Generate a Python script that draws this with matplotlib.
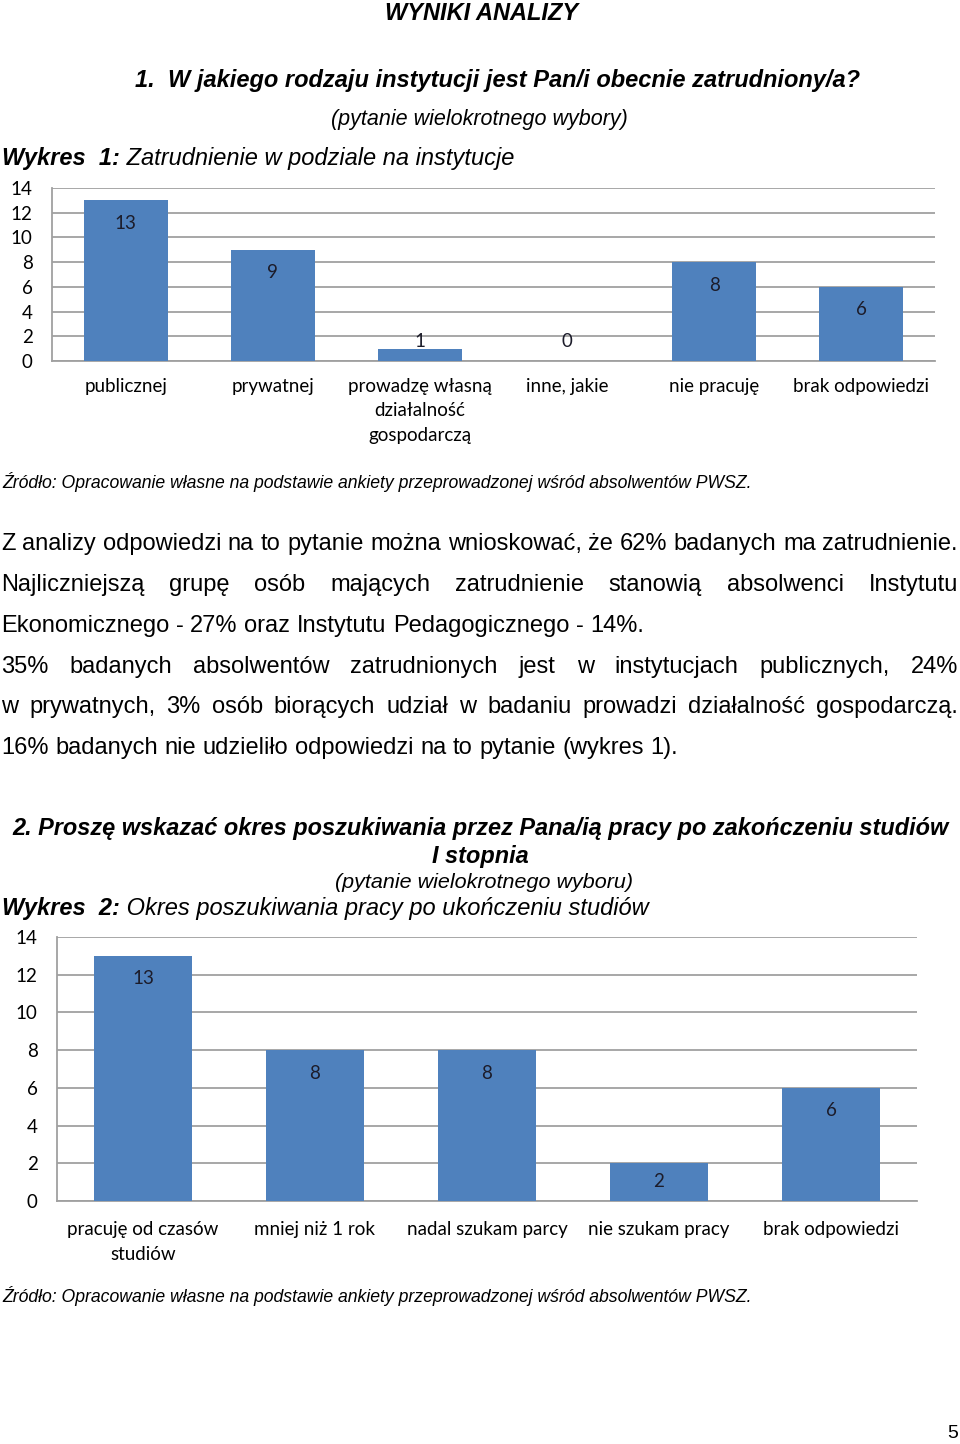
import matplotlib
matplotlib.use('Agg')
import matplotlib.pyplot as plt

W, H = 960, 1444
BLUE = '#4F81BD'
GRID = '#A0A0A0'
CHART_FONT = ['Lato', 'DejaVu Sans']
DOC_FONT = ['Liberation Sans', 'DejaVu Sans']
NARROW = ['Liberation Sans Narrow', 'Liberation Sans', 'DejaVu Sans']

# chart 1 data
cats1 = ['publicznej', 'prywatnej', 'prowadzę własną\ndziałalność\ngospodarczą',
         'inne, jakie', 'nie pracuję', 'brak odpowiedzi']
vals1 = [13, 9, 1, 0, 8, 6]

# chart 2 data
cats2 = ['pracuję od czasów\nstudiów', 'mniej niż 1 rok', 'nadal szukam parcy',
         'nie szukam pracy', 'brak odpowiedzi']
vals2 = [13, 8, 8, 2, 6]

yticks = [0, 2, 4, 6, 8, 10, 12, 14]

fig = plt.figure(figsize=(W / 100, H / 100), dpi=100)
renderer = fig.canvas.get_renderer()


def fy(y):
    return 1 - y / H


def width_of(t):
    return t.get_window_extent(renderer).width


def measure(s, size):
    t = fig.text(0, 0, s, fontsize=size, family=DOC_FONT)
    w = width_of(t)
    t.remove()
    return w


def fit(text, x0, x1, y, **kw):
    t = fig.text(x0 / W, fy(y), text, va='center', ha='left', fontsize=10, **kw)
    t.set_fontsize(10 * (x1 - x0) / width_of(t))
    return t


def runs(parts, x0, y, size):
    # parts: list of (text, style, weight)
    x = x0
    for txt, style, weight in parts:
        t = fig.text(x / W, fy(y), txt, va='center', ha='left', fontsize=size,
                     style=style, weight=weight, family=DOC_FONT)
        x += width_of(t)


def justify(line, y, x0, x1, size, full=True):
    words = line.split()
    texts = [fig.text(0, fy(y), w, va='center', ha='left', fontsize=size, family=DOC_FONT)
             for w in words]
    widths = [width_of(t) for t in texts]
    space = measure('a a', size) - 2 * measure('a', size)
    if full and len(words) > 1:
        gap = (x1 - x0 - sum(widths)) / (len(words) - 1)
    else:
        gap = space
    x = x0
    for t, w in zip(texts, widths):
        t.set_x(x / W)
        x += w + gap


def bar_chart(rect, cats, vals, label_pad):
    ax = fig.add_axes(rect)
    n = len(cats)
    ax.bar(range(n), vals, width=0.57, color=BLUE, zorder=3)
    ax.set_xlim(-0.5, n - 0.5)
    ax.set_ylim(0, 14)
    ax.set_yticks(yticks)
    ax.grid(axis='y', color=GRID, linewidth=1.3, zorder=0)
    for s in ['top', 'right']:
        ax.spines[s].set_visible(False)
    for s in ['left', 'bottom']:
        ax.spines[s].set_color(GRID)
        ax.spines[s].set_linewidth(1.3)
    ax.set_xticks(range(n))
    ax.set_xticklabels(cats, family=CHART_FONT, fontsize=13.5, linespacing=1.55)
    ax.tick_params(axis='x', length=0, pad=label_pad)
    ax.tick_params(axis='y', length=0, pad=14, labelsize=13.5)
    for lab in ax.get_yticklabels():
        lab.set_family(CHART_FONT)
    unit_px = rect[3] * H / 14
    for i, v in enumerate(vals):
        if v * unit_px > 41:
            ax.annotate(str(v), xy=(i, v), xytext=(0, -16.5), textcoords='offset points',
                        ha='center', va='center', fontsize=13.5, family=CHART_FONT, color='#1c1c2a')
        else:
            ax.annotate(str(v), xy=(i, 0), xytext=(0, 14), textcoords='offset points',
                        ha='center', va='center', fontsize=13.5, family=CHART_FONT, color='#1c1c2a')
    return ax


# headings
fit('WYNIKI ANALIZY', 385, 578, 13, style='italic', weight='bold', family=NARROW)
fit('1.  W jakiego rodzaju instytucji jest Pan/i obecnie zatrudniony/a?', 135, 862, 81,
    style='italic', weight='bold', family=NARROW)
fit('(pytanie wielokrotnego wybory)', 331, 629, 120, style='italic', family=NARROW)

runs([('Wykres  1:', 'italic', 'bold'), (' Zatrudnienie w podziale na instytucje', 'italic', 'normal')],
     2, 158, 17)

bar_chart([52 / W, fy(361), (935 - 52) / W, 173 / H], cats1, vals1, 12)

fit('Źródło: Opracowanie własne na podstawie ankiety przeprowadzonej wśród absolwentów PWSZ.',
    2, 755, 482, style='italic', family=DOC_FONT)

# paragraph
size = 17
justify('Z analizy odpowiedzi na to pytanie można wnioskować, że 62% badanych ma zatrudnienie.', 544, 1, 958, size)
justify('Najliczniejszą grupę osób mających zatrudnienie stanowią absolwenci Instytutu', 585, 1, 958, size)
justify('Ekonomicznego - 27% oraz Instytutu Pedagogicznego - 14%.', 626, 1, 958, size, full=False)
justify('35% badanych absolwentów zatrudnionych jest w instytucjach publicznych, 24%', 667, 1, 958, size)
justify('w prywatnych, 3% osób biorących udział w badaniu prowadzi działalność gospodarczą.', 707, 1, 958, size)
justify('16% badanych nie udzieliło odpowiedzi na to pytanie (wykres 1).', 748, 1, 958, size, full=False)

# second section
fit('2. Proszę wskazać okres poszukiwania przez Pana/ią pracy po zakończeniu studiów', 12, 950, 829,
    style='italic', weight='bold', family=DOC_FONT)
fit('I stopnia', 432, 529, 856, style='italic', weight='bold', family=DOC_FONT)
fit('(pytanie wielokrotnego wyboru)', 335, 633, 882, style='italic', family=DOC_FONT)

runs([('Wykres  2:', 'italic', 'bold'), (' Okres poszukiwania pracy po ukończeniu studiów', 'italic', 'normal')],
     2, 908, 17)

bar_chart([57 / W, fy(1201), (917 - 57) / W, 264 / H], cats2, vals2, 14.5)

fit('Źródło: Opracowanie własne na podstawie ankiety przeprowadzonej wśród absolwentów PWSZ.',
    2, 755, 1296, style='italic', family=DOC_FONT)

fig.text(953 / W, fy(1434), '5', ha='center', va='center', fontsize=14, family=DOC_FONT)

fig.savefig('out.png', dpi=100)
